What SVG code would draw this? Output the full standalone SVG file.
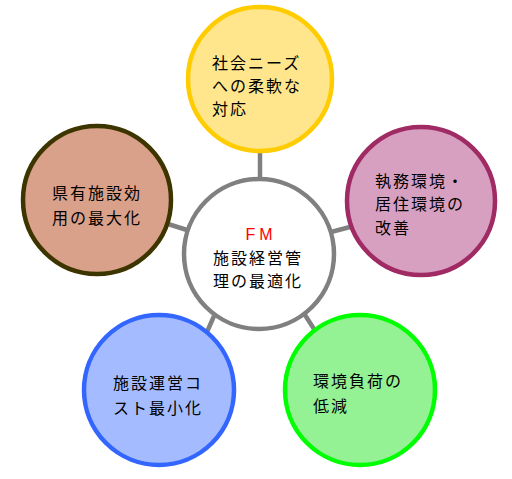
<svg xmlns="http://www.w3.org/2000/svg" width="512" height="479" viewBox="0 0 512 479">
<style>
.t{font-family:"Noto Sans CJK JP","Noto Sans CJK SC",sans-serif;font-size:16px;letter-spacing:2px;fill:#000}
.fm{font-family:"Liberation Sans",Arial,sans-serif;font-size:16px;fill:#ff0000;letter-spacing:4px}
.c{stroke-width:4.5}
.ln{stroke:#808080;stroke-width:4.5;fill:none}
</style>
<rect width="512" height="479" fill="#ffffff"/>
<g id="connectors">
<line class="ln" x1="260" y1="150" x2="260" y2="180"/>
<line class="ln" x1="168" y1="224" x2="187" y2="230"/>
<line class="ln" x1="331" y1="232" x2="350" y2="227"/>
<line class="ln" x1="207" y1="332" x2="214" y2="316"/>
<line class="ln" x1="314" y1="329" x2="305" y2="315"/>
</g>
<g id="center">
<circle cx="259" cy="254" r="75" fill="#ffffff" stroke="#808080" stroke-width="4.5"/>
<text class="fm" x="261" y="240" text-anchor="middle">FM</text>
<text class="t" x="213" y="264">施設経営管</text>
<text class="t" x="213" y="287">理の最適化</text>
</g>
<g id="node-top">
<circle class="c" cx="260" cy="79" r="72" fill="#ffe68c" stroke="#ffcc00"/>
<text class="t" x="212" y="69">社会ニーズ</text>
<text class="t" x="212" y="92">への柔軟な</text>
<text class="t" x="212" y="115">対応</text>
</g>
<g id="node-left">
<circle class="c" cx="97" cy="200" r="74" fill="#d9a08a" stroke="#3d3500"/>
<text class="t" x="52" y="199">県有施設効</text>
<text class="t" x="52" y="224">用の最大化</text>
</g>
<g id="node-right">
<circle class="c" cx="421" cy="201" r="74" fill="#d8a0c0" stroke="#a02a64"/>
<text class="t" x="375" y="187">執務環境・</text>
<text class="t" x="375" y="210">居住環境の</text>
<text class="t" x="375" y="234">改善</text>
</g>
<g id="node-bottom-left">
<circle class="c" cx="159" cy="390" r="75" fill="#a4bcff" stroke="#3366ff"/>
<text class="t" x="113" y="389">施設運営コ</text>
<text class="t" x="113" y="414">スト最小化</text>
</g>
<g id="node-bottom-right">
<circle class="c" cx="360" cy="390" r="75" fill="#94f294" stroke="#00ff00"/>
<text class="t" x="313" y="387">環境負荷の</text>
<text class="t" x="313" y="412">低減</text>
</g>
</svg>
